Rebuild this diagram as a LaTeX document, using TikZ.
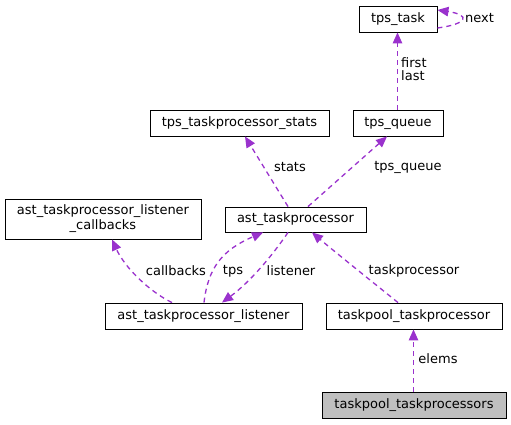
\documentclass[tikz,border=0pt]{standalone}
\usepackage{fontspec}
\setmainfont{DejaVu Sans}
\usetikzlibrary{arrows.meta,calc}
\definecolor{edgec}{HTML}{9A32CD}
\definecolor{rootfill}{HTML}{BFBFBF}
\begin{document}
\begin{tikzpicture}[x=1pt,y=-1pt,
  box/.style={draw=black,line width=0.9pt,fill=white,inner sep=0pt,align=center,
    font=\fontsize{13}{15}\selectfont},
  rootbox/.style={box,fill=rootfill},
  rel/.style={draw=edgec,line width=1.3pt,dash pattern=on 5pt off 4pt,
    -{Triangle[length=11pt,width=9.5pt]}},
  lbl/.style={font=\fontsize{13}{15}\selectfont,inner sep=0pt,align=left}]
\useasboundingbox (0,0) rectangle (511,424);
% nodes
\node[box,minimum width=78pt,minimum height=26pt] (task) at (398,19) {tps\_task};
\node[box,minimum width=90pt,minimum height=26pt] (queue) at (398,123) {tps\_queue};
\node[box,minimum width=179pt,minimum height=26pt] (stats) at (239.5,123) {tps\_taskprocessor\_stats};
\node[box,minimum width=196pt,minimum height=40pt] (cb) at (103,219) {ast\_taskprocessor\_listener\\\_callbacks};
\node[box,minimum width=141pt,minimum height=25pt] (ast) at (295.5,219.5) {ast\_taskprocessor};
\node[box,minimum width=197pt,minimum height=26pt] (lis) at (203.5,316) {ast\_taskprocessor\_listener};
\node[box,minimum width=176pt,minimum height=26pt] (tpt) at (414,316) {taskpool\_taskprocessor};
\node[rootbox,minimum width=184pt,minimum height=26pt] (tps) at (414,405) {taskpool\_taskprocessors};
% edges
\draw[rel] ([yshift=-9pt]task.east) .. controls +(30,-4) and +(34,5) .. ([yshift=9pt]task.east);
\node[lbl] (lnext) at (479.5,18) {next};
\draw[rel] ([xshift=-0.5pt]queue.north) -- ([xshift=-0.5pt]task.south);
\node[lbl,anchor=west] (lfirst) at (401,69) {first\\[-2pt]last};
\draw[rel] ([xshift=-7.5pt]ast.north) -- ([xshift=5.5pt]stats.south);
\node[lbl] (lstats) at (290,167) {stats};
\draw[rel] ([xshift=12.5pt]ast.north) -- ([xshift=-11pt]queue.south);
\node[lbl] (lq) at (408,167) {tps\_queue};
\draw[rel] ([xshift=-31.5pt]lis.north) .. controls (150,292) and (125,268) .. ([xshift=9pt]cb.south);
\node[lbl] (lcb) at (176,271) {callbacks};
\draw[rel] ([xshift=0.5pt]lis.north) .. controls (208,268) and (222,250) .. ([xshift=-32.5pt]ast.south);
\node[lbl] (ltps) at (233,271) {tps};
\draw[rel] ([xshift=-7.5pt]ast.south) .. controls (272,256) and (250,282) .. ([xshift=18.5pt]lis.north);
\node[lbl] (llis) at (291,271) {listener};
\draw[rel] ([xshift=-16pt]tpt.north) .. controls (370,280) and (335,252) .. ([xshift=16.5pt]ast.south);
\node[lbl] (ltp) at (414,271) {taskprocessor};
\draw[rel] ([xshift=-0.5pt]tps.north) -- ([xshift=-0.5pt]tpt.south);
\node[lbl] (lel) at (438,359) {elems};
\end{tikzpicture}
\end{document}
